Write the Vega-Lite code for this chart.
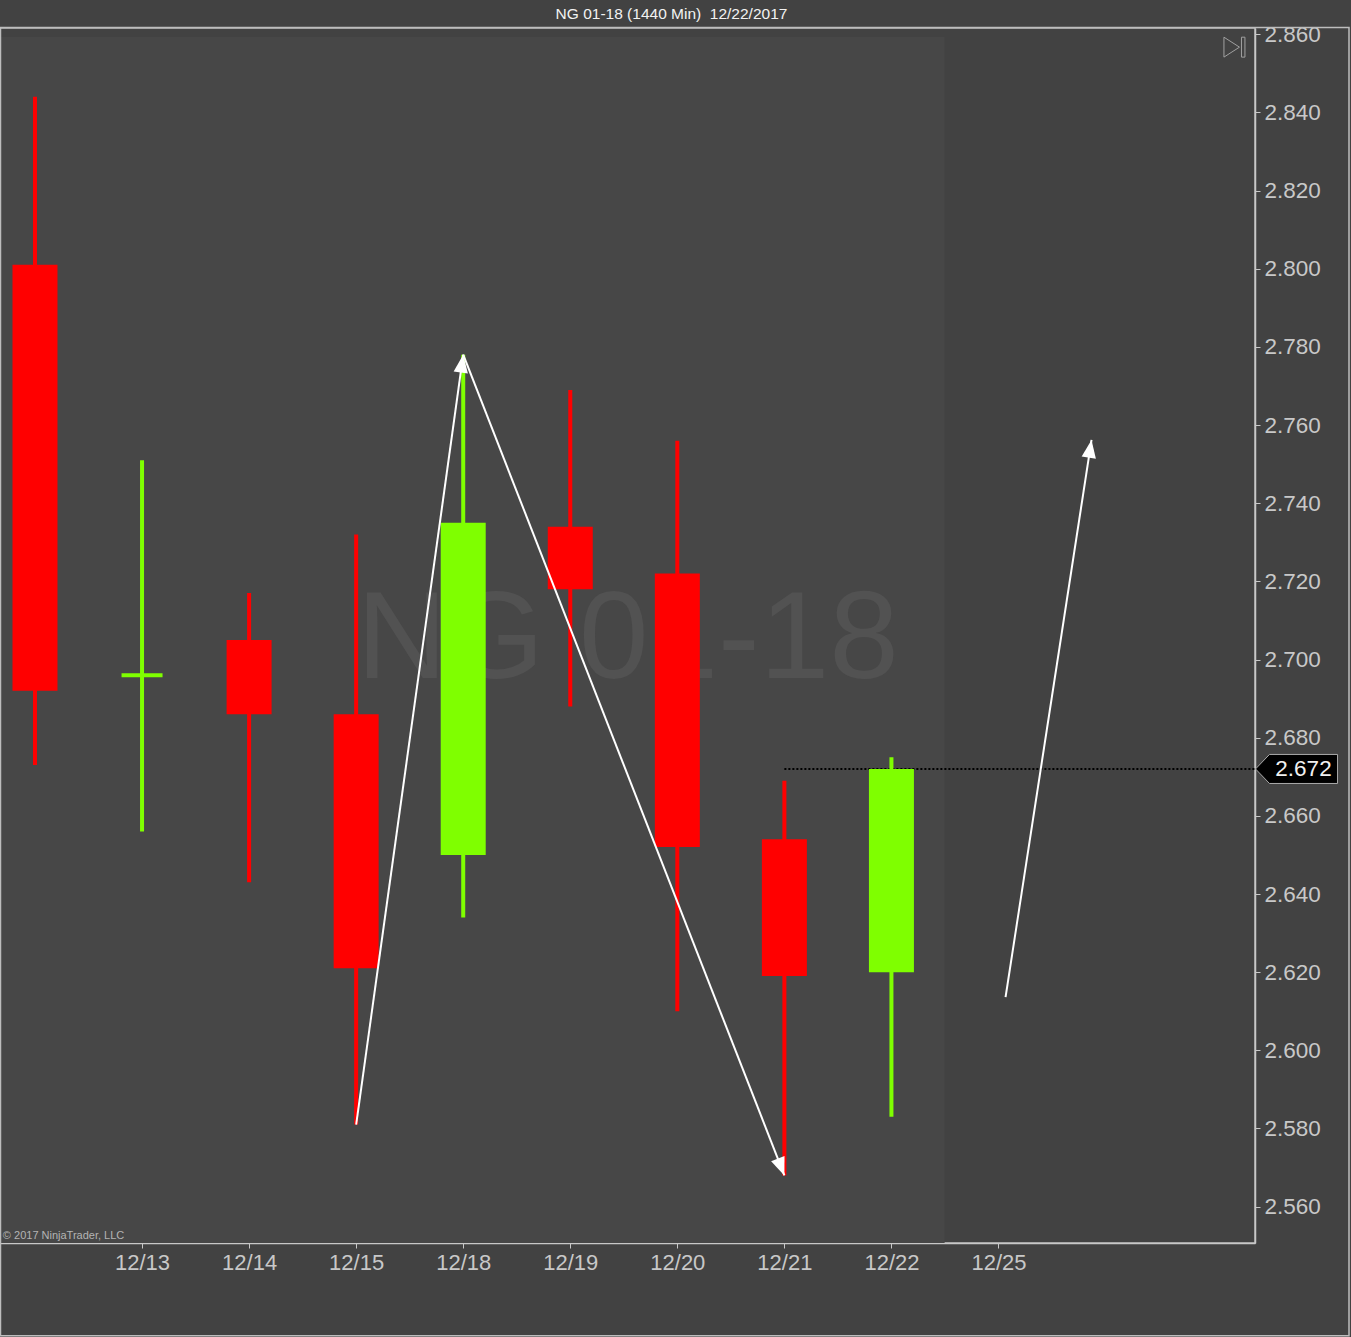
{
  "$schema": "https://vega.github.io/schema/vega-lite/v6.json",
  "width": 1255,
  "height": 1215,
  "autosize": {"type": "none"},
  "padding": {"left": 0, "top": 28, "right": 96, "bottom": 94},
  "background": "#424242",
  "title": {"text": "NG 01-18 (1440 Min) \u00a012/22/2017", "anchor": "middle", "dx": 44, "fontSize": 15.5, "fontWeight": "normal", "color": "#f2f2f2", "font": "Liberation Sans", "offset": 1},
  "config": {"view": {"stroke": "#bdbdbd", "strokeWidth": 1.5}, "font": "Liberation Sans", "scale": {"continuousPadding": 0}},
  "datasets": {
    "candles": [
      {"i": 0, "date": "12/12", "open": 2.801, "high": 2.844, "low": 2.673, "close": 2.692},
      {"i": 1, "date": "12/13", "open": 2.696, "high": 2.751, "low": 2.656, "close": 2.696},
      {"i": 2, "date": "12/14", "open": 2.705, "high": 2.717, "low": 2.643, "close": 2.686},
      {"i": 3, "date": "12/15", "open": 2.686, "high": 2.732, "low": 2.581, "close": 2.621},
      {"i": 4, "date": "12/18", "open": 2.650, "high": 2.778, "low": 2.634, "close": 2.735},
      {"i": 5, "date": "12/19", "open": 2.734, "high": 2.769, "low": 2.688, "close": 2.718},
      {"i": 6, "date": "12/20", "open": 2.722, "high": 2.756, "low": 2.610, "close": 2.652},
      {"i": 7, "date": "12/21", "open": 2.654, "high": 2.669, "low": 2.568, "close": 2.619},
      {"i": 8, "date": "12/22", "open": 2.620, "high": 2.675, "low": 2.583, "close": 2.672}
    ],
    "arrows": [
      {"id": "a1", "x1": 3, "y1": 2.581, "x2": 4, "y2": 2.778},
      {"id": "a2", "x1": 4, "y1": 2.778, "x2": 7, "y2": 2.568},
      {"id": "a3", "x1": 9.066, "y1": 2.6136, "x2": 9.869, "y2": 2.7562}
    ]
  },
  "layer": [
    {
      "data": {"values": [{}]},
      "mark": {"type": "rect", "fill": "#474747"},
      "encoding": {
        "x": {"datum": -0.3268, "type": "quantitative", "title": null},
        "x2": {"datum": 8.497},
        "y": {"datum": 2.8593, "type": "quantitative", "title": null},
        "y2": {"datum": 2.5507}
      }
    },
    {
      "data": {"values": [{}]},
      "mark": {"type": "text", "text": "NG 01-18", "fontSize": 125, "color": "#525252", "align": "center", "baseline": "alphabetic", "font": "Liberation Sans"},
      "encoding": {
        "x": {"datum": 5.537, "type": "quantitative", "title": null},
        "y": {"datum": 2.6953, "type": "quantitative", "title": null}
      }
    },
    {
      "data": {"values": [{}]},
      "mark": {"type": "rule", "color": "#000000", "strokeWidth": 2, "strokeDash": [2, 2]},
      "encoding": {
        "x": {"datum": 7, "type": "quantitative", "title": null},
        "x2": {"datum": 11.396},
        "y": {"datum": 2.672, "type": "quantitative", "title": null}
      }
    },
    {
      "data": {"name": "candles"},
      "mark": {"type": "rule", "strokeWidth": 4},
      "encoding": {
        "x": {
          "field": "i", "type": "quantitative", "title": null,
          "scale": {"domain": [-0.3268, 11.396], "nice": false, "zero": false, "padding": 0},
          "axis": {
            "values": [1, 2, 3, 4, 5, 6, 7, 8, 9],
            "labelExpr": "['12/12','12/13','12/14','12/15','12/18','12/19','12/20','12/21','12/22','12/25'][datum.value]",
            "grid": false, "tickSize": 5, "tickColor": "#c8c8c8", "tickWidth": 1,
            "domainColor": "#c8c8c8", "domainWidth": 1.5,
            "labelColor": "#c8c8c8", "labelFontSize": 22, "labelPadding": 4,
            "labelFlush": false, "labelOverlap": false, "labelFont": "Liberation Sans"
          }
        },
        "y": {
          "field": "low", "type": "quantitative", "title": null,
          "scale": {"domain": [2.5507, 2.8616], "nice": false, "zero": false, "padding": 0},
          "axis": {
            "orient": "right",
            "values": [2.56, 2.58, 2.6, 2.62, 2.64, 2.66, 2.68, 2.7, 2.72, 2.74, 2.76, 2.78, 2.8, 2.82, 2.84, 2.86],
            "format": ".3f",
            "grid": false, "tickSize": 5, "tickColor": "#c8c8c8", "tickWidth": 1,
            "domainColor": "#c8c8c8", "domainWidth": 1.5,
            "labelColor": "#c8c8c8", "labelFontSize": 22.5, "labelPadding": 4,
            "labelFlush": false, "labelOverlap": false, "labelFont": "Liberation Sans"
          }
        },
        "y2": {"field": "high"},
        "color": {"condition": {"test": "datum.close >= datum.open", "value": "#7fff00"}, "value": "#ff0000"}
      }
    },
    {
      "data": {"name": "candles"},
      "transform": [{"filter": "datum.open != datum.close"}],
      "mark": {"type": "bar", "size": 45},
      "encoding": {
        "x": {"field": "i", "type": "quantitative", "title": null},
        "y": {"field": "open", "type": "quantitative", "title": null},
        "y2": {"field": "close"},
        "color": {"condition": {"test": "datum.close >= datum.open", "value": "#7fff00"}, "value": "#ff0000"}
      }
    },
    {
      "data": {"name": "candles"},
      "transform": [{"filter": "datum.open == datum.close"}],
      "mark": {"type": "bar", "size": 41, "strokeWidth": 4, "stroke": "#7fff00", "fill": "#7fff00"},
      "encoding": {
        "x": {"field": "i", "type": "quantitative", "title": null},
        "y": {"field": "open", "type": "quantitative", "title": null},
        "y2": {"field": "close"}
      }
    },
    {
      "data": {"name": "arrows"},
      "mark": {"type": "rule", "color": "#ffffff", "strokeWidth": 2},
      "encoding": {
        "x": {"field": "x1", "type": "quantitative", "title": null},
        "x2": {"field": "x2"},
        "y": {"field": "y1", "type": "quantitative", "title": null},
        "y2": {"field": "y2"}
      }
    },
    {
      "data": {"name": "arrows"},
      "transform": [{"filter": "datum.id == 'a1'"}],
      "mark": {"type": "point", "shape": "M 0 0 L 0.4 1 L -0.4 1 Z", "size": 1296, "filled": true, "color": "#ffffff", "opacity": 1, "angle": 7.8},
      "encoding": {
        "x": {"field": "x2", "type": "quantitative", "title": null},
        "y": {"field": "y2", "type": "quantitative", "title": null}
      }
    },
    {
      "data": {"name": "arrows"},
      "transform": [{"filter": "datum.id == 'a2'"}],
      "mark": {"type": "point", "shape": "M 0 0 L 0.4 1 L -0.4 1 Z", "size": 1296, "filled": true, "color": "#ffffff", "opacity": 1, "angle": 158.6},
      "encoding": {
        "x": {"field": "x2", "type": "quantitative", "title": null},
        "y": {"field": "y2", "type": "quantitative", "title": null}
      }
    },
    {
      "data": {"name": "arrows"},
      "transform": [{"filter": "datum.id == 'a3'"}],
      "mark": {"type": "point", "shape": "M 0 0 L 0.4 1 L -0.4 1 Z", "size": 1296, "filled": true, "color": "#ffffff", "opacity": 1, "angle": 8.8},
      "encoding": {
        "x": {"field": "x2", "type": "quantitative", "title": null},
        "y": {"field": "y2", "type": "quantitative", "title": null}
      }
    },
    {
      "data": {"values": [{}]},
      "mark": {"type": "point", "shape": "M -1 0 L -0.66 -0.354 L 1 -0.354 L 1 0.354 L -0.66 0.354 Z", "size": 6724, "fill": "#000000", "fillOpacity": 1, "stroke": "#aaaaaa", "strokeWidth": 1, "opacity": 1},
      "encoding": {
        "x": {"datum": 11.784, "type": "quantitative", "title": null},
        "y": {"datum": 2.672, "type": "quantitative", "title": null}
      }
    },
    {
      "data": {"values": [{}]},
      "mark": {"type": "text", "text": "2.672", "fontSize": 22.5, "color": "#f0f0f0", "align": "center", "baseline": "middle", "font": "Liberation Sans"},
      "encoding": {
        "x": {"datum": 11.849, "type": "quantitative", "title": null},
        "y": {"datum": 2.672, "type": "quantitative", "title": null}
      }
    },
    {
      "data": {"values": [{}]},
      "mark": {"type": "point", "shape": "M -1 -0.95 L 0.48 0 L -1 0.95 Z M 0.67 -0.95 L 1 -0.95 L 1 0.95 L 0.67 0.95 Z", "size": 441, "filled": false, "stroke": "#a0a0a0", "strokeWidth": 1, "opacity": 1},
      "encoding": {
        "x": {"datum": 11.204, "type": "quantitative", "title": null},
        "y": {"datum": 2.8567, "type": "quantitative", "title": null}
      }
    },
    {
      "data": {"values": [{}]},
      "mark": {"type": "text", "text": "\u00a9 2017 NinjaTrader, LLC", "fontSize": 11, "color": "#b4b4b4", "align": "left", "baseline": "bottom", "font": "Liberation Sans"},
      "encoding": {
        "x": {"datum": -0.30, "type": "quantitative", "title": null},
        "y": {"datum": 2.5512, "type": "quantitative", "title": null}
      }
    },
    {
      "data": {"values": [{}]},
      "mark": {"type": "rect", "fillOpacity": 0, "fill": "#000000", "stroke": "#bdbdbd", "strokeWidth": 1.5},
      "encoding": {
        "x": {"datum": -0.3221, "type": "quantitative", "title": null},
        "x2": {"datum": 12.274},
        "y": {"datum": 2.86174, "type": "quantitative", "title": null},
        "y2": {"datum": 2.52696}
      }
    }
  ]
}
